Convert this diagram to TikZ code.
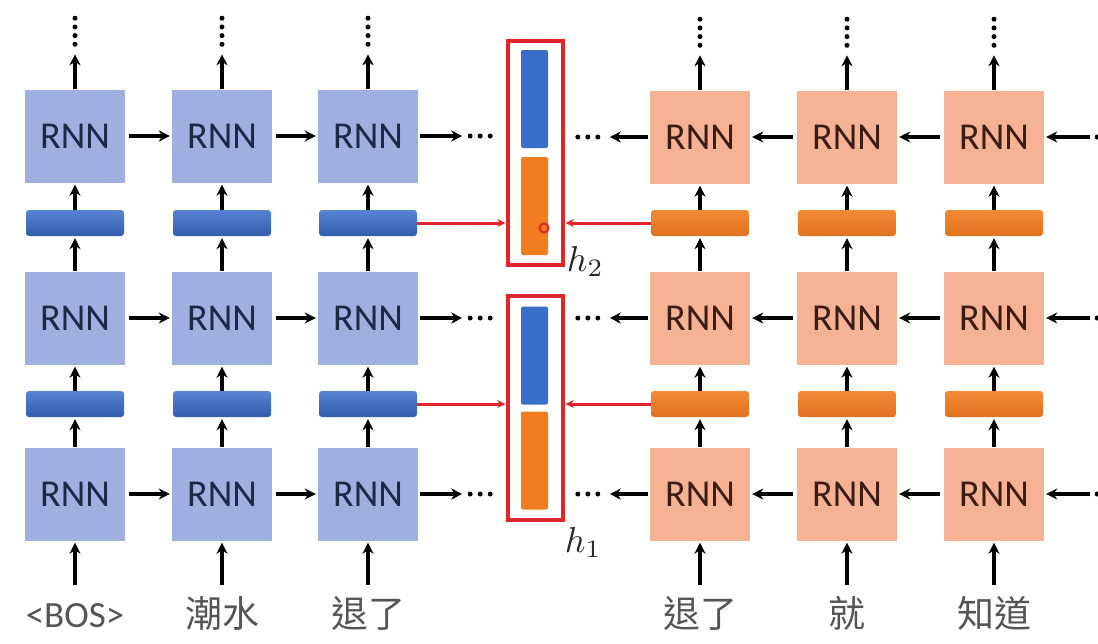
\documentclass[tikz,border=0pt]{standalone}
\usepackage{graphicx}
\usepackage{fontspec}
\setmainfont{Carlito}
\newfontfamily\cjk{Noto Sans CJK TC}
\usetikzlibrary{positioning,arrows.meta}

\definecolor{fwdbox}{HTML}{9FB0E0}
\definecolor{fwdtext}{HTML}{1B2846}
\definecolor{bwdbox}{HTML}{F6B294}
\definecolor{bwdtext}{HTML}{3A1C10}
\definecolor{fwdbar}{HTML}{3B6DCB}
\definecolor{bwdbar}{HTML}{F27C20}
\definecolor{hred}{HTML}{E2252B}
\definecolor{wordgray}{HTML}{555555}

\begin{document}
\begin{tikzpicture}[
    x=1pt,y=-1pt,
    fwd/.style={rectangle,fill=fwdbox,text=fwdtext,minimum width=100pt,minimum height=93pt,inner sep=0pt,font=\fontsize{38}{40}\selectfont},
    bwd/.style={fwd,fill=bwdbox,text=bwdtext},
    fbar/.style={rectangle,rounded corners=3pt,top color=fwdbar!85!white,bottom color=fwdbar!85!black,minimum width=98pt,minimum height=26pt,inner sep=0pt},
    bbar/.style={fbar,top color=bwdbar!90!white,bottom color=bwdbar!92!black},
    word/.style={anchor=base,text=wordgray,text height=42pt,text depth=0pt,inner sep=0pt,font=\fontsize{37}{40}\selectfont},
    arr/.style={-{Stealth[length=11pt,width=11pt]},line width=3.6pt,shorten >=2pt},
    vdots/.style={line width=5pt,line cap=round,dash pattern=on 0pt off 8.7pt},
    hdots/.style={line width=5pt,line cap=round,dash pattern=on 0pt off 10pt},
    hbox/.style={rectangle,draw=hred,line width=3.4pt,minimum width=55pt,minimum height=224pt,inner sep=0pt},
    hin/.style={rectangle,rounded corners=2pt,minimum width=27pt,minimum height=98pt,inner sep=0pt},
    rarr/.style={-{Stealth[length=8pt,width=8pt]},draw=hred,line width=3pt,shorten >=1pt},
    hlab/.style={inner sep=0pt,text=black!85}
  ]
  \useasboundingbox (0,0) rectangle (1098,643);

  % forward RNN (blue)
  \foreach \i/\cx in {1/75,2/222,3/368}
    {
    \foreach \j/\cy in {1/494,2/318,3/136}
      {
      \node[fwd] (f\i\j) at (\cx,\cy) {RNN};
      }
    \node[fbar] (fb\i1) at (\cx,404) {};
    \node[fbar] (fb\i2) at (\cx,223) {};
    }

  % backward RNN (orange)
  \foreach \i/\cx in {1/700,2/847,3/994}
    {
    \foreach \j/\cy in {1/494,2/318,3/137}
      {
      \node[bwd] (b\i\j) at (\cx,\cy) {RNN};
      }
    \node[bbar] (bb\i1) at (\cx,404) {};
    \node[bbar] (bb\i2) at (\cx,223) {};
    }

  % input words
  \node[word] (fw1) at (75,627) {<BOS>};
  \node[word] (fw2) at (222,627) {\cjk 潮水};
  \node[word] (fw3) at (368,627) {\cjk 退了};
  \node[word] (bw1) at (700,627) {\cjk 退了};
  \node[word] (bw2) at (847,627) {\cjk 就};
  \node[word] (bw3) at (994,627) {\cjk 知道};

  % vertical connections
  \foreach \s in {f,b}
    {
    \foreach \i in {1,2,3}
      {
      \draw[arr] (\s w\i.north) -- (\s\i1.south);
      \draw[arr] (\s\i1.north) -- (\s b\i1.south);
      \draw[arr] (\s b\i1.north) -- (\s\i2.south);
      \draw[arr] (\s\i2.north) -- (\s b\i2.south);
      \draw[arr] (\s b\i2.north) -- (\s\i3.south);
      \draw[arr] (\s\i3.north) -- ++(0,-37) coordinate (\s u\i);
      \draw[vdots] ([yshift=8pt]\s u\i) -- ++(0,-27);
      }
    }

  % horizontal connections
  \foreach \j in {1,2,3}
    {
    \draw[arr,shorten <=4pt] (f1\j.east) -- (f2\j.west);
    \draw[arr,shorten <=4pt] (f2\j.east) -- (f3\j.west);
    \draw[arr,shorten <=2pt] (f3\j.east) -- ++(46,0) coordinate (fr\j);
    \draw[hdots] ([xshift=6pt]fr\j) -- ++(20,0);
    \draw[arr,shorten <=4pt] (b3\j.west) -- (b2\j.east);
    \draw[arr,shorten <=4pt] (b2\j.west) -- (b1\j.east);
    \draw[arr,shorten <=2pt] (b1\j.west) -- ++(-42,0) coordinate (bl\j);
    \draw[hdots] ([xshift=-10pt]bl\j) -- ++(-20,0);
    \path (b3\j.east) ++(46,0) coordinate (bs\j);
    \draw[arr] (bs\j) -- (b3\j.east);
    \draw[hdots] ([xshift=7pt]bs\j) -- ++(10,0);
    }

  % concatenated hidden states
  \node[hbox] (h2) at (535.5,153) {};
  \node[hin,fill=fwdbar] (h2f) at (534.5,99) {};
  \node[hin,fill=bwdbar] (h2b) at (534.5,206) {};
  \node[hbox] (h1) at (535.5,408) {};
  \node[hin,fill=fwdbar] (h1f) at (534.5,355.5) {};
  \node[hin,fill=bwdbar] (h1b) at (534.5,460.5) {};
  \node[hlab,anchor=west] (l2) at ([xshift=2pt,yshift=5pt]h2.south east) {\scalebox{3.6}{$h_2$}};
  \node[hlab,anchor=west] (l1) at ([xshift=0pt,yshift=-21pt]h1.south east) {\scalebox{3.6}{$h_1$}};
  \draw[hred,line width=2pt] (544,228) circle (4.5);

  \draw[rarr] (fb32.east) -- (fb32.east -| h2.west);
  \draw[rarr] (bb12.west) -- (bb12.west -| h2.east);
  \draw[rarr] (fb31.east) -- (fb31.east -| h1.west);
  \draw[rarr] (bb11.west) -- (bb11.west -| h1.east);
\end{tikzpicture}
\end{document}
